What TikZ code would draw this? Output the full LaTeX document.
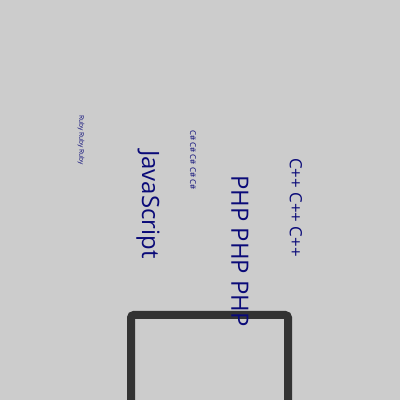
\documentclass[tikz,border=0pt]{standalone}
\usepackage{fontspec}
\setmainfont{Open Sans}
\usepackage{tikz}
\usepackage{color}
\definecolor{bggray}{RGB}{204,204,204}
\definecolor{framegray}{RGB}{51,51,51}
\definecolor{langnavy}{RGB}{10,10,120}

\begin{document}
\begin{tikzpicture}[lang/.style={rotate=-90, anchor=west, inner sep=0pt, text=langnavy}]

\clip (0,0) rectangle (10,10);
\fill[bggray] (0,0) rectangle (10,10);

\node[draw=framegray, line width=0.2cm, rounded corners=2pt, minimum width=3.925cm, minimum height=3.125cm] (frame) at (5.2375,0.5625) {};

\node[lang, font=\fontsize{4.7pt}{5pt}\selectfont] (ruby) at (2.025,7.125) {Ruby Ruby Ruby};
\node[lang, font=\fontsize{5.7pt}{6pt}\selectfont] (csharp) at (4.825,6.75) {C\# C\# C\# C\# C\#};
\node[lang, font=\fontsize{17pt}{18pt}\selectfont] (js) at (3.7,6.25) {JavaScript};
\node[lang, font=\fontsize{17pt}{18pt}\selectfont] (php) at (6.0,5.625) {PHP PHP PHP};
\node[lang, font=\fontsize{12pt}{13pt}\selectfont] (cpp) at (7.4,6.05) {C++ C++ C++};
\end{tikzpicture}
\end{document}
